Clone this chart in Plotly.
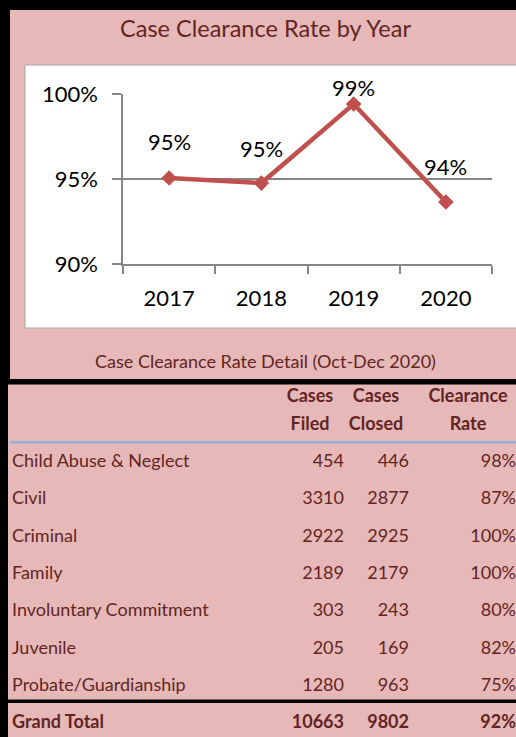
import plotly.graph_objects as go

# ---------------- data ----------------
years = ["2017", "2018", "2019", "2020"]
rate_by_year = [95.06, 94.76, 99.41, 93.65]
y_ticks = [90, 95, 100]

case_types = ["Child Abuse & Neglect", "Civil", "Criminal", "Family",
              "Involuntary Commitment", "Juvenile", "Probate/Guardianship"]
cases_filed = [454, 3310, 2922, 2189, 303, 205, 1280]
cases_closed = [446, 2877, 2925, 2179, 243, 169, 963]
clearance_rate = [98, 87, 100, 100, 80, 82, 75]
total_label = "Grand Total"
total_filed = 10663
total_closed = 9802
total_rate = 92

header_top = ["Cases", "Cases", "Clearance"]
header_bottom = ["Filed", "Closed", "Rate"]

chart_title = "Case Clearance Rate by Year"
table_title = "Case Clearance Rate Detail (Oct-Dec 2020)"

# ---------------- style ----------------
W, H = 516, 737
PINK = "#E6B8B7"
TEXT = "#632523"
RED = "#C0504D"
GRID = "#868686"
BLUE = "#95B3D7"
FONT = "Lato"
label_shift = [36, 35, 17, 35]


def px(x):
    return x / W


def py(y):
    return 1 - y / H


fig = go.Figure()

# line chart
fig.add_trace(go.Scatter(
    x=years, y=rate_by_year, mode="lines+markers",
    line=dict(color=RED, width=4.5),
    marker=dict(symbol="diamond", size=12, color=RED),
    cliponaxis=False, hoverinfo="skip", showlegend=False,
    xaxis="x", yaxis="y"))

annotations = []
for i, v in enumerate(rate_by_year):
    annotations.append(dict(x=i, y=v, xref="x", yref="y", text=f"{round(v)}%",
                            showarrow=False, yshift=label_shift[i],
                            xanchor="center", yanchor="middle",
                            font=dict(family=FONT, size=22, color="#000000")))

annotations.append(dict(x=px(265), y=py(28), xref="paper", yref="paper",
                        text=chart_title, showarrow=False,
                        xanchor="center", yanchor="middle",
                        font=dict(family=FONT, size=23.5, color=TEXT)))
annotations.append(dict(x=px(265), y=py(361), xref="paper", yref="paper",
                        text=table_title, showarrow=False,
                        xanchor="center", yanchor="middle",
                        font=dict(family=FONT, size=18, color=TEXT)))

# table (drawn on a pixel-scaled overlay axis pair)
row_y = [462.5 + 37.3 * i for i in range(len(case_types) + 1)]
col_right = [344, 409, 516]
col_center = [310, 376, 468]
hdr_y = [397, 425]
tfont = dict(family=FONT, size=18, color=TEXT)

common = dict(mode="text", textfont=tfont, marker=dict(size=0), cliponaxis=False,
              hoverinfo="skip", showlegend=False, xaxis="x2", yaxis="y2")

fig.add_trace(go.Scatter(
    x=[12] * len(case_types), y=row_y[:len(case_types)], text=case_types,
    textposition="middle right", **common))
for cx, vals, fmt in [(col_right[0], cases_filed, "{}"),
                      (col_right[1], cases_closed, "{}"),
                      (col_right[2], clearance_rate, "{}%")]:
    fig.add_trace(go.Scatter(
        x=[cx] * len(vals), y=row_y[:len(vals)], text=[fmt.format(v) for v in vals],
        textposition="middle left", **common))

# total row
fig.add_trace(go.Scatter(
    x=[12], y=[row_y[-1]], text=[f"<b>{total_label}</b>"],
    textposition="middle right", **common))
fig.add_trace(go.Scatter(
    x=col_right, y=[row_y[-1]] * 3,
    text=[f"<b>{total_filed}</b>", f"<b>{total_closed}</b>", f"<b>{total_rate}%</b>"],
    textposition="middle left", **common))

# header
fig.add_trace(go.Scatter(
    x=col_center * 2, y=[hdr_y[0]] * 3 + [hdr_y[1]] * 3,
    text=[f"<b>{t}</b>" for t in header_top + header_bottom],
    textposition="middle center", **common))

shapes = [
    # white chart box
    dict(type="rect", xref="paper", yref="paper", x0=px(25), x1=px(530),
         y0=py(328), y1=py(65), fillcolor="white",
         line=dict(color="#A6A6A6", width=1), layer="below"),
    # black borders
    dict(type="rect", xref="paper", yref="paper", x0=0, x1=1, y0=py(10), y1=1,
         fillcolor="black", line=dict(width=0)),
    dict(type="rect", xref="paper", yref="paper", x0=0, x1=px(10), y0=py(382), y1=1,
         fillcolor="black", line=dict(width=0)),
    dict(type="rect", xref="paper", yref="paper", x0=0, x1=px(8), y0=0, y1=py(382),
         fillcolor="black", line=dict(width=0)),
    dict(type="rect", xref="paper", yref="paper", x0=0, x1=1, y0=py(384.5), y1=py(379),
         fillcolor="black", line=dict(width=0)),
    dict(type="rect", xref="paper", yref="paper", x0=0, x1=1, y0=py(703), y1=py(699.5),
         fillcolor="black", line=dict(width=0)),
    # blue header rule
    dict(type="rect", xref="paper", yref="paper", x0=px(10), x1=1, y0=py(443.5), y1=py(441),
         fillcolor=BLUE, line=dict(width=0)),
]

fig.update_layout(
    width=W, height=H, margin=dict(l=0, r=0, t=0, b=0, pad=0, autoexpand=False),
    paper_bgcolor=PINK, plot_bgcolor="rgba(0,0,0,0)",
    showlegend=False, annotations=annotations, shapes=shapes,
    xaxis=dict(domain=[px(123), px(492)], type="category", anchor="y",
               categoryorder="array", categoryarray=years, range=[-0.5, 3.5],
               tickson="boundaries", ticks="outside", ticklen=8, tickcolor=GRID,
               tickwidth=1.5, showline=True, linecolor=GRID, linewidth=1.5,
               showgrid=False, ticklabelstandoff=14, automargin=False,
               tickfont=dict(family=FONT, size=22, color="#000000"), fixedrange=True),
    yaxis=dict(domain=[py(264), py(94)], range=[90, 100], tickmode="array",
               tickvals=y_ticks, ticktext=[f"{v}%" for v in y_ticks],
               anchor="x", ticks="outside", ticklen=9, automargin=False,
               tickcolor=GRID, tickwidth=1.5, showline=True, linecolor=GRID,
               linewidth=1.5, showgrid=True, gridcolor=GRID, gridwidth=1.5,
               zeroline=False, ticklabelstandoff=10,
               tickfont=dict(family=FONT, size=22, color="#000000"), fixedrange=True),
    xaxis2=dict(domain=[0, 1], range=[0, W], anchor="y2", visible=False, fixedrange=True),
    yaxis2=dict(domain=[0, 1], range=[H, 0], anchor="x2", visible=False, fixedrange=True),
)

fig.write_html(
    "out.html",
    config=dict(displayModeBar=False),
    post_script="document.body.style.margin='0';document.body.style.overflow='hidden';",
)
